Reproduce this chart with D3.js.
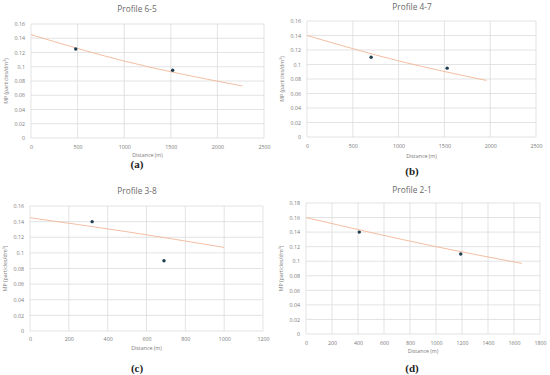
<!DOCTYPE html>
<html>
<head>
<meta charset="utf-8">
<script src="https://cdn.jsdelivr.net/npm/d3@7"></script>
<style>
  body { margin: 0; background: #fff; }
  svg { display: block; }
  .tick text { fill: #7a7a7a; font-family: 'Open Sans', sans-serif; font-size: 5.3px; }
</style>
</head>
<body>
<svg id="canvas" width="550" height="375"></svg>
<script>
// chart data
let titles = ['Profile 6-5', 'Profile 4-7', 'Profile 3-8', 'Profile 2-1'];
let subLabels = ['(a)', '(b)', '(c)', '(d)'];
let xMax = [2500, 2500, 1200, 1800];
let xStep = [500, 500, 200, 200];
let yMax = [0.16, 0.16, 0.16, 0.18];
let yStep = 0.02;

// measured points
let pointDist = [[480, 1520], [700, 1530], [320, 690], [410, 1190]];
let pointMP = [[0.125, 0.095], [0.11, 0.095], [0.14, 0.09], [0.14, 0.11]];

// trendline read at a few places
let trendDist = [[0, 1000, 2270], [0, 1000, 1960], [0, 500, 1000], [0, 1000, 1660]];
let trendMP = [[0.145, 0.108, 0.073], [0.14, 0.105, 0.078], [0.145, 0.127, 0.107], [0.16, 0.12, 0.097]];

// where each panel sits on the page
let boxes = [
    { x0: 31, x1: 264, top: 24, bot: 138, cx: 137, titleY: 12, tickY: 149, axY: 157, subY: 168 },
    { x0: 307, x1: 536, top: 21, bot: 137, cx: 412, titleY: 10, tickY: 148, axY: 158, subY: 175 },
    { x0: 30, x1: 263, top: 206, bot: 331, cx: 137, titleY: 194, tickY: 341, axY: 350, subY: 372 },
    { x0: 306, x1: 540, top: 203, bot: 334, cx: 412, titleY: 193, tickY: 345, axY: 353, subY: 372 }
];

let canvas = d3.select('#canvas');

let drawPanel = (i) => {
    let b = boxes[i];
    let x = d3.scaleLinear().domain([0, xMax[i]]).range([b.x0, b.x1]);
    let y = d3.scaleLinear().domain([0, yMax[i]]).range([b.bot, b.top]);
    let g = canvas.append('g');

    let xTicks = d3.range(0, xMax[i] + 1, xStep[i]);
    let yTicks = d3.range(0, Math.round(yMax[i] / yStep) + 1).map(k => +(k * yStep).toFixed(2));

    // gridlines
    g.selectAll('.vgrid').data(xTicks).enter().append('line')
        .attr('x1', d => x(d)).attr('x2', d => x(d))
        .attr('y1', b.top).attr('y2', b.bot)
        .attr('stroke', '#dcdcdc').attr('stroke-width', 0.8);
    g.selectAll('.hgrid').data(yTicks).enter().append('line')
        .attr('x1', b.x0).attr('x2', b.x1)
        .attr('y1', d => y(d)).attr('y2', d => y(d))
        .attr('stroke', '#dcdcdc').attr('stroke-width', 0.8);

    // tick labels
    let xAxis = g.append('g')
        .attr('transform', `translate(0,${b.bot})`)
        .call(d3.axisBottom(x).tickValues(xTicks).tickSize(0).tickPadding(b.tickY - b.bot - 4).tickFormat(d3.format('d')));
    xAxis.select('.domain').remove();

    let yAxis = g.append('g')
        .attr('transform', `translate(${b.x0},0)`)
        .call(d3.axisLeft(y).tickValues(yTicks).tickSize(0).tickPadding(6).tickFormat(d => d === 0 ? '0' : String(d)));
    yAxis.select('.domain').remove();

    // trendline
    let tr = trendDist[i].map((d, k) => [d, trendMP[i][k]]);
    g.append('path')
        .datum(tr)
        .attr('fill', 'none')
        .attr('stroke', '#f2b796')
        .attr('stroke-width', 0.9)
        .attr('d', d3.line().x(d => x(d[0])).y(d => y(d[1])).curve(d3.curveMonotoneX));

    // points
    g.selectAll('circle').data(pointDist[i]).enter().append('circle')
        .attr('cx', d => x(d))
        .attr('cy', (d, k) => y(pointMP[i][k]))
        .attr('r', 1.7)
        .attr('fill', '#1f3d4f');

    // texts
    g.append('text')
        .attr('x', b.cx).attr('y', b.titleY)
        .attr('text-anchor', 'middle')
        .attr('font-family', "'Open Sans', sans-serif")
        .attr('font-size', 8.3)
        .attr('fill', '#6a6a6a')
        .text(titles[i]);

    g.append('text')
        .attr('x', (b.x0 + b.x1) / 2).attr('y', b.axY)
        .attr('text-anchor', 'middle')
        .attr('font-family', "'Open Sans', sans-serif")
        .attr('font-size', 5.3)
        .attr('fill', '#7a7a7a')
        .text('Distance (m)');

    let yl = g.append('text')
        .attr('transform', `translate(${b.x0 - 23},${(b.top + b.bot) / 2}) rotate(-90)`)
        .attr('text-anchor', 'middle')
        .attr('font-family', "'Open Sans', sans-serif")
        .attr('font-size', 5.3)
        .attr('fill', '#7a7a7a');
    yl.append('tspan').text('MP (particles/dm');
    yl.append('tspan').attr('font-size', 3.6).attr('dy', -2).text('3');
    yl.append('tspan').attr('dy', 2).text(')');

    g.append('text')
        .attr('x', b.cx).attr('y', b.subY)
        .attr('text-anchor', 'middle')
        .attr('font-family', "'Liberation Serif', serif")
        .attr('font-weight', 'bold')
        .attr('font-size', 11)
        .attr('fill', '#222')
        .text(subLabels[i]);
};

titles.forEach((t, i) => drawPanel(i));
</script>
</body>
</html>
